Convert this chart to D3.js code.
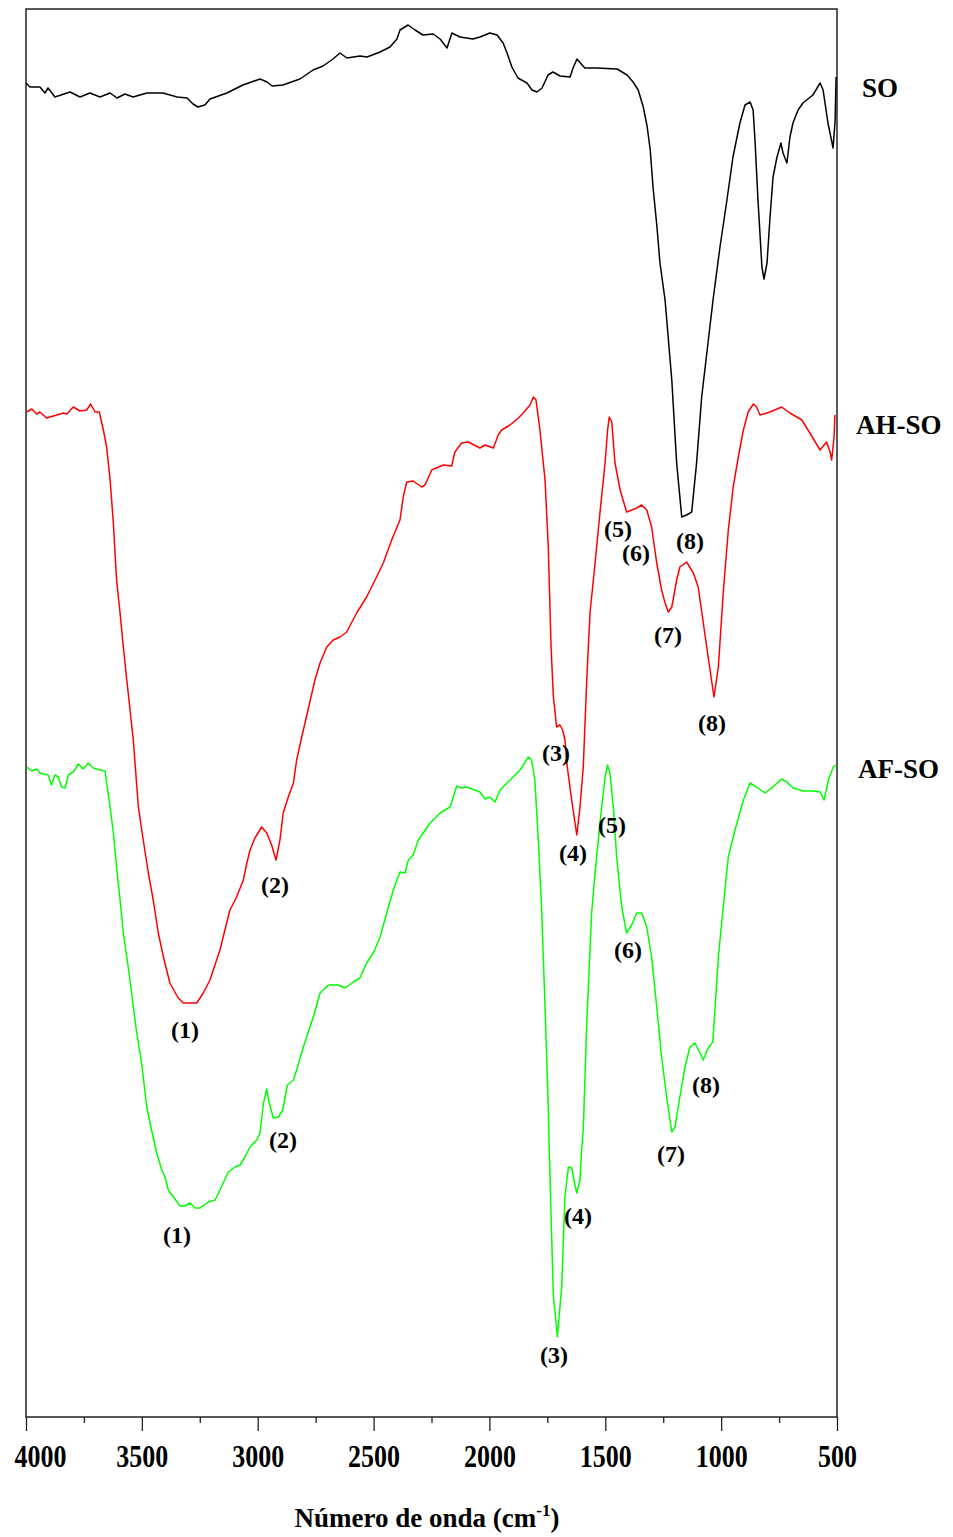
<!DOCTYPE html>
<html>
<head>
<meta charset="utf-8">
<script src="https://cdn.jsdelivr.net/npm/d3@7"></script>
<style>
  body { margin: 0; background: #fff; }
  svg text { font-family: "Liberation Serif", "Times New Roman", serif; font-weight: bold; fill: #000; }
</style>
</head>
<body>
<script>
// Spectra: [wavenumber (cm-1), intensity (a.u., vertically offset)]
const soData = [
  [4000,133.4],[3983,133.0],[3940,133.0],[3918,132.4],[3905,132.9],[3875,132.0],[3810,132.5],[3767,132.0],
  [3724,132.4],[3681,132.0],[3637,132.4],[3607,131.9],[3573,132.3],[3538,132.0],[3478,132.4],[3409,132.4],
  [3348,132.0],[3305,131.9],[3279,131.3],[3258,131.0],[3228,131.2],[3206,131.8],[3133,132.4],[3064,133.2],
  [2990,133.8],[2960,133.5],[2938,133.1],[2891,133.2],[2818,133.8],[2761,134.7],[2718,135.1],[2675,135.8],
  [2645,136.4],[2615,135.9],[2559,136.1],[2528,136.0],[2472,136.5],[2429,137.0],[2399,137.8],[2386,138.7],
  [2351,139.2],[2321,138.7],[2287,138.2],[2243,138.3],[2213,137.8],[2183,136.9],[2162,138.4],[2127,138.0],
  [2071,137.8],[2041,138.0],[1998,138.4],[1967,138.2],[1941,137.4],[1924,136.4],[1903,135.0],[1877,133.9],
  [1838,133.4],[1816,132.7],[1795,132.5],[1773,132.9],[1747,134.2],[1726,134.5],[1695,134.1],[1652,134.0],
  [1639,134.9],[1622,135.8],[1600,135.2],[1588,134.9],[1536,134.9],[1449,134.8],[1406,134.2],[1380,133.5],
  [1358,132.7],[1336,131.0],[1319,129.0],[1306,126.7],[1294,123.0],[1277,119.0],[1264,115.4],[1242,111.7],
  [1213,103.7],[1192,95.4],[1170,90.0],[1149,90.2],[1127,90.5],[1106,95.4],[1084,102.0],[1035,111.7],
  [1005,117.0],[975,121.7],[949,126.0],[919,129.4],[897,131.2],[875,131.5],[862,130.7],[854,127.7],
  [841,121.7],[824,115.0],[815,113.8],[802,115.4],[789,120.0],[776,124.0],[759,126.0],[742,127.4],
  [733,126.4],[716,125.4],[703,128.0],[690,129.4],[668,130.7],[647,131.4],[604,132.2],[573,133.4],
  [560,132.7],[539,129.4],[517,126.9],[508,129.7],[504,134.0]
];

const ahData = [
  [3997,100.5],[3975,100.8],[3954,100.3],[3940,100.5],[3911,99.9],[3882,100.1],[3839,100.4],[3824,100.3],
  [3796,101.0],[3767,100.6],[3738,100.7],[3721,101.3],[3702,100.5],[3684,100.5],[3666,98.7],[3652,97.0],
  [3637,93.7],[3623,89.4],[3609,83.7],[3594,80.4],[3580,77.0],[3565,73.7],[3537,67.7],[3515,61.0],
  [3494,57.7],[3472,54.4],[3451,51.7],[3429,48.4],[3407,46.0],[3379,43.4],[3343,41.9],[3321,41.4],
  [3263,41.4],[3235,42.4],[3206,43.7],[3163,46.7],[3134,49.4],[3120,50.7],[3091,52.0],[3062,53.7],
  [3047,55.4],[3033,56.7],[3012,57.9],[2983,59.0],[2961,58.4],[2940,57.2],[2921,55.7],[2904,57.7],
  [2890,60.4],[2868,62.0],[2846,63.4],[2832,65.7],[2813,67.7],[2753,73.7],[2731,75.4],[2702,77.0],
  [2674,77.7],[2645,78.0],[2616,78.5],[2573,80.4],[2530,82.0],[2487,84.0],[2458,85.4],[2422,87.7],
  [2386,89.7],[2372,92.0],[2357,93.5],[2329,93.6],[2292,93.0],[2278,93.2],[2249,94.7],[2199,95.2],
  [2163,95.1],[2149,96.5],[2120,97.4],[2091,97.5],[2041,96.9],[2019,97.2],[1983,96.9],[1962,98.2],
  [1947,98.7],[1911,99.2],[1875,99.9],[1854,100.4],[1825,101.2],[1810,102.0],[1799,101.7],[1782,98.7],
  [1760,93.7],[1746,87.0],[1734,77.0],[1724,72.0],[1710,69.0],[1696,69.2],[1684,68.7],[1674,67.7],
  [1664,65.0],[1645,61.7],[1623,58.2],[1609,61.0],[1595,65.0],[1580,73.7],[1566,80.4],[1544,85.4],
  [1523,90.4],[1501,95.4],[1490,98.7],[1483,100.0],[1472,99.5],[1458,95.4],[1436,92.7],[1408,90.5],
  [1364,90.9],[1343,91.2],[1321,90.7],[1300,89.0],[1278,85.4],[1257,82.7],[1242,81.4],[1228,80.5],
  [1213,81.0],[1192,83.7],[1178,85.0],[1149,85.5],[1120,84.4],[1099,83.0],[1077,79.4],[1048,74.7],
  [1031,72.0],[1012,75.0],[991,82.4],[969,88.7],[948,93.0],[926,96.0],[904,98.7],[883,100.5],
  [861,101.3],[847,101.0],[832,100.2],[789,100.5],[739,101.0],[703,100.4],[652,99.7],[617,98.4],
  [573,96.7],[545,97.5],[530,96.5],[523,95.7],[513,97.9],[509,100.2]
];

const afData = [
  [3997,65.0],[3975,64.6],[3954,64.8],[3940,64.4],[3904,64.2],[3890,63.2],[3875,64.2],[3861,64.0],
  [3846,63.0],[3832,62.9],[3817,64.2],[3796,64.5],[3774,65.3],[3753,64.8],[3731,65.4],[3710,64.9],
  [3681,64.7],[3659,64.6],[3652,63.4],[3637,61.0],[3623,58.4],[3609,55.0],[3594,51.7],[3580,48.4],
  [3565,46.0],[3551,43.7],[3537,41.0],[3522,38.4],[3501,35.4],[3479,31.0],[3458,28.7],[3436,26.4],
  [3414,24.7],[3400,24.0],[3386,22.7],[3364,22.0],[3335,21.1],[3314,21.1],[3292,21.4],[3271,20.9],
  [3249,20.9],[3213,21.5],[3184,21.7],[3163,22.7],[3127,24.5],[3098,25.0],[3076,25.2],[3055,26.0],
  [3033,27.0],[3004,27.7],[2990,28.4],[2975,31.4],[2961,32.8],[2950,31.4],[2933,29.9],[2911,30.0],
  [2892,30.7],[2872,33.2],[2846,33.7],[2832,34.7],[2803,37.0],[2789,38.0],[2760,40.0],[2731,42.4],
  [2695,43.2],[2652,43.2],[2623,42.9],[2587,43.5],[2559,43.9],[2530,45.4],[2501,46.4],[2472,48.0],
  [2443,50.4],[2415,52.7],[2386,54.5],[2364,54.4],[2350,55.7],[2329,56.2],[2307,57.7],[2256,59.4],
  [2213,60.4],[2170,61.0],[2156,62.0],[2141,63.1],[2120,62.9],[2098,63.0],[2041,62.5],[2019,61.8],
  [1998,62.0],[1976,61.5],[1954,62.7],[1911,63.7],[1868,64.7],[1832,66.0],[1818,65.7],[1804,63.7],
  [1789,57.7],[1775,51.0],[1760,41.0],[1746,31.0],[1742,27.0],[1731,17.7],[1724,12.0],[1713,9.7],
  [1707,8.0],[1698,10.4],[1688,13.0],[1681,17.7],[1674,22.0],[1666,23.7],[1659,25.0],[1645,24.9],
  [1633,23.4],[1623,22.4],[1609,23.7],[1602,26.7],[1595,28.7],[1580,39.4],[1559,50.4],[1544,54.4],
  [1523,59.4],[1501,64.0],[1490,65.2],[1480,64.4],[1465,61.0],[1451,56.0],[1429,51.0],[1408,48.4],
  [1386,49.2],[1364,50.4],[1343,50.4],[1321,49.0],[1300,46.0],[1278,41.0],[1257,36.0],[1235,32.0],
  [1213,28.5],[1199,29.0],[1178,32.0],[1156,35.0],[1135,37.0],[1113,37.4],[1091,36.4],[1077,35.7],
  [1056,36.9],[1036,37.5],[1026,41.0],[1012,46.0],[991,51.0],[969,56.0],[940,58.7],[904,61.7],
  [875,63.4],[847,63.0],[811,62.4],[782,62.9],[739,63.8],[717,63.5],[689,62.9],[645,62.6],
  [602,62.6],[573,62.5],[556,61.7],[537,63.7],[516,65.0],[504,65.2]
];

const seriesNames = ['SO', 'AH-SO', 'AF-SO'];
const seriesColors = ['#000000', '#ff0000', '#00ff00'];
const seriesLabelLevel = [132.9, 99.2, 64.8];

// Band labels: [text, wavenumber, intensity]
const peakLabels = [
  ['(8)', 1134, 87.6],
  ['(1)', 3314, 38.7], ['(2)', 2925, 53.2], ['(3)', 1713, 66.4], ['(4)', 1639, 56.4],
  ['(5)', 1445, 88.8], ['(6)', 1367, 86.4], ['(7)', 1229, 78.2], ['(8)', 1039, 69.4],
  ['(1)', 3348, 18.2], ['(2)', 2891, 27.7], ['(3)', 1721, 6.2], ['(4)', 1618, 20.1],
  ['(5)', 1471, 59.2], ['(6)', 1402, 46.7], ['(7)', 1216, 26.3], ['(8)', 1065, 33.2]
];

const majorTicks = [4000, 3500, 3000, 2500, 2000, 1500, 1000, 500];
const minorTicks = [3750, 3250, 2750, 2250, 1750, 1250, 750];
const xTitle = 'Número de onda (cm';

const W = 953, H = 1537;
const plotL = 26, plotR = 837, plotT = 9, plotB = 1417;

const svg = d3.select('body').append('svg')
    .attr('width', W)
    .attr('height', H);

const x = d3.scaleLinear().domain([4000, 500]).range([plotL, plotR]);
const y = d3.scaleLinear().domain([0, 140.8]).range([plotB, plotT]);

// minor ticks
svg.append('g')
    .attr('transform', `translate(0,${plotB})`)
    .call(d3.axisBottom(x).tickValues(minorTicks).tickSize(6).tickFormat(''))
    .call(g => g.select('.domain').remove())
    .call(g => g.selectAll('line').attr('stroke', '#222').attr('stroke-width', 1.3));

// major ticks + labels
const xAxis = svg.append('g')
    .attr('transform', `translate(0,${plotB})`)
    .call(d3.axisBottom(x).tickValues(majorTicks).tickSize(14).tickPadding(9).tickFormat(d3.format('d')));
xAxis.select('.domain').remove();
xAxis.selectAll('line').attr('stroke', '#222').attr('stroke-width', 1.3);
xAxis.selectAll('text')
    .attr('font-size', 26)
    .attr('font-family', '"Liberation Serif", serif')
    .attr('font-weight', 'bold')
    .attr('fill', '#000')
    .attr('transform', 'scale(1,1.2)');
xAxis.selectAll('.tick').filter(d => d === 4000).select('text')
    .attr('text-anchor', 'start').attr('x', -12);

// frame
svg.append('rect')
    .attr('x', plotL).attr('y', plotT)
    .attr('width', plotR - plotL).attr('height', plotB - plotT)
    .attr('fill', 'none').attr('stroke', '#222').attr('stroke-width', 1.5);

// spectra
const line = d3.line().x(d => x(d[0])).y(d => y(d[1]));
[soData, ahData, afData].forEach((data, i) => {
    svg.append('path')
        .datum(data)
        .attr('fill', 'none')
        .attr('stroke', seriesColors[i])
        .attr('stroke-width', 1.5)
        .attr('stroke-linejoin', 'round')
        .attr('d', line);
});

// series names, to the right of the frame
const nameOffset = [25, 19, 21];
svg.selectAll('.sname')
    .data(seriesNames)
    .enter()
    .append('text')
    .attr('class', 'sname')
    .attr('x', (d, i) => plotR + nameOffset[i])
    .attr('y', (d, i) => y(seriesLabelLevel[i]))
    .attr('dy', '0.35em')
    .attr('font-size', 27)
    .text(d => d);

// band labels
svg.selectAll('.plabel')
    .data(peakLabels)
    .enter()
    .append('text')
    .attr('class', 'plabel')
    .attr('x', d => x(d[1]))
    .attr('y', d => y(d[2]))
    .attr('dy', '0.35em')
    .attr('text-anchor', 'middle')
    .attr('font-size', 24)
    .text(d => d[0]);

// axis title
const title = svg.append('text')
    .attr('x', 427)
    .attr('y', 1527)
    .attr('text-anchor', 'middle')
    .attr('font-size', 27);
title.append('tspan').text(xTitle);
title.append('tspan').attr('font-size', 17).attr('dy', -11).text('-1');
title.append('tspan').attr('dy', 11).text(')');
</script>
</body>
</html>
